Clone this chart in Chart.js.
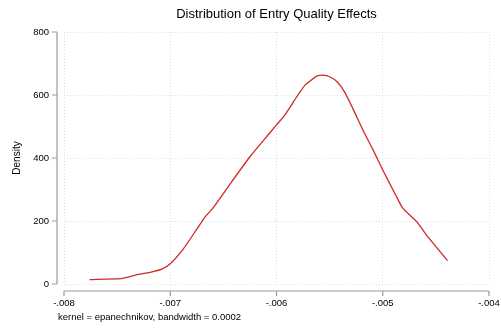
<!DOCTYPE html>
<html>
<head>
<meta charset="utf-8">
<script src="https://cdn.jsdelivr.net/npm/chart.js@4/dist/chart.umd.min.js"></script>
<style>
  body { margin: 0; background: #fff; }
  #wrap { width: 501px; height: 328px; }
</style>
</head>
<body>
<div id="wrap"><canvas id="kdensity" width="501" height="328"></canvas></div>
<script>
// kernel density of entry quality effects
const effectX = [
  -0.00776, -0.00747, -0.00741, -0.00732, -0.00719, -0.00708, -0.00700, -0.00688,
  -0.00675, -0.00667, -0.00660, -0.00641, -0.00625, -0.00612, -0.00600, -0.00592,
  -0.00583, -0.00573, -0.00567, -0.00562, -0.00556, -0.00550, -0.00543, -0.00536,
  -0.00528, -0.00518, -0.00509, -0.00500, -0.00487, -0.00481, -0.00468, -0.00459,
  -0.00439
];
const density = [
  14, 17, 21, 29, 37, 47, 64, 110,
  174, 214, 240, 330, 404, 457, 505, 537,
  584, 632, 648, 660, 663, 658, 642, 610,
  556, 484, 425, 362, 277, 240, 198, 156,
  74
];
const xTicks = [-0.008, -0.007, -0.006, -0.005, -0.004];
const yTicks = [0, 200, 400, 600, 800];

const FONT = "'Liberation Sans', Arial, Helvetica, sans-serif";
const axisGray = '#9a9a9a';

const points = effectX.map((x, i) => ({ x: x, y: density[i] }));

function fmtX(v) {
  // stata style: -.008
  return '-' + Math.abs(v).toFixed(3).replace(/^0/, '');
}

// stata draws its axes a few pixels away from the plot region,
// title is centred over the plot region, note sits under the graph
const stataBits = {
  id: 'stataBits',
  afterDraw(chart) {
    const ctx = chart.ctx;
    const a = chart.chartArea;
    const xs = chart.scales.x, ys = chart.scales.y;
    const gap = 7, tick = 5;
    ctx.save();
    ctx.strokeStyle = axisGray;
    ctx.lineWidth = 1.2;
    ctx.beginPath();
    ctx.moveTo(a.left - gap, ys.getPixelForValue(800));
    ctx.lineTo(a.left - gap, ys.getPixelForValue(0));
    yTicks.forEach(v => {
      const py = ys.getPixelForValue(v);
      ctx.moveTo(a.left - gap, py);
      ctx.lineTo(a.left - gap - tick, py);
    });
    ctx.moveTo(xs.getPixelForValue(-0.008), a.bottom + gap);
    ctx.lineTo(xs.getPixelForValue(-0.004), a.bottom + gap);
    xTicks.forEach(v => {
      const px = xs.getPixelForValue(v);
      ctx.moveTo(px, a.bottom + gap);
      ctx.lineTo(px, a.bottom + gap + tick);
    });
    ctx.stroke();

    ctx.fillStyle = '#000';
    ctx.textBaseline = 'middle';
    ctx.textAlign = 'center';
    ctx.font = '13px ' + FONT;
    ctx.fillText('Distribution of Entry Quality Effects', (a.left + a.right) / 2, 14);

    ctx.textAlign = 'left';
    ctx.font = '9.5px ' + FONT;
    ctx.fillText('kernel = epanechnikov, bandwidth = 0.0002', a.left - 6, 317);
    ctx.restore();
  }
};

new Chart(document.getElementById('kdensity'), {
  type: 'line',
  data: {
    datasets: [{
      data: points,
      borderColor: '#cc2a27',
      borderWidth: 1.3,
      pointRadius: 0,
      tension: 0.2,
      fill: false
    }]
  },
  options: {
    responsive: false,
    animation: false,
    layout: { autoPadding: false, padding: { left: 0, right: 12, top: 32, bottom: 0 } },
    plugins: {
      legend: { display: false },
      tooltip: { enabled: false },
      title: { display: false }
    },
    scales: {
      x: {
        type: 'linear',
        min: -0.008,
        max: -0.004,
        afterBuildTicks: s => { s.ticks = xTicks.map(v => ({ value: v })); },
        afterFit: s => {
          s.height = 44;
          s.paddingLeft = 0;
          s.paddingRight = 0;
        },
        ticks: {
          color: '#000',
          font: { family: FONT, size: 9.5 },
          padding: 14,
          maxRotation: 0,
          callback: v => fmtX(v)
        },
        grid: { color: '#dedede', lineWidth: 1, drawTicks: false },
        border: { display: false, dash: [1, 2] }
      },
      y: {
        min: 0,
        max: 800,
        afterBuildTicks: s => { s.ticks = yTicks.map(v => ({ value: v })); },
        afterFit: s => {
          s.width = 64;
          s.paddingTop = 0;
          s.paddingBottom = 0;
        },
        ticks: {
          color: '#000',
          font: { family: FONT, size: 9.5 },
          padding: 15
        },
        grid: { color: '#dedede', lineWidth: 1, drawTicks: false },
        border: { display: false, dash: [1, 2] },
        title: {
          display: true,
          text: 'Density',
          color: '#000',
          font: { family: FONT, size: 10 },
          padding: { top: 11, bottom: 0 }
        }
      }
    }
  },
  plugins: [stataBits]
});
</script>
</body>
</html>
